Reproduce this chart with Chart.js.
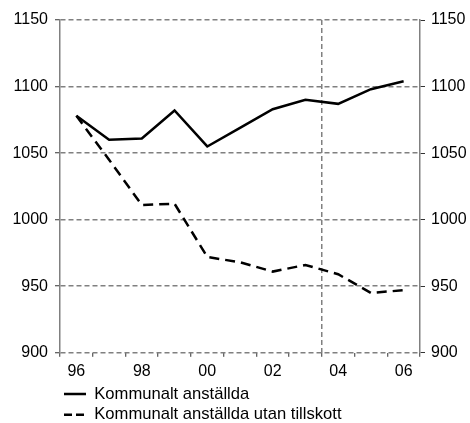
<!DOCTYPE html>
<html>
<head>
<meta charset="utf-8">
<script src="https://cdn.jsdelivr.net/npm/chart.js@4/dist/chart.umd.min.js"></script>
<style>
  html, body { margin: 0; padding: 0; background: #fff; }
  #wrap { width: 470px; height: 423px; position: relative; }
</style>
</head>
<body>
<div id="wrap"><canvas id="c" width="470" height="423"></canvas></div>
<script>
const years = ['96','97','98','99','00','01','02','03','04','05','06'];
const anstallda = [1078, 1060, 1061, 1082, 1055, 1069, 1083, 1090, 1087, 1098, 1104];
const utanTillskott = [1078, 1045, 1011, 1012, 972, 968, 961, 966, 959, 945, 947];
const seriesNames = ['Kommunalt anställda', 'Kommunalt anställda utan tillskott'];
const yMin = 900, yMax = 1150, yStep = 50;
const markerIndex = 8; // vertical dashed line at the boundary before '04'

const FONT = { family: "'Liberation Sans', Arial, sans-serif", size: 16 };
const LEGEND_FONT = { family: "'Liberation Sans', Arial, sans-serif", size: 16.6 };
const GRID_GRAY = '#808080';

Chart.defaults.font = FONT;
Chart.defaults.color = '#000';

new Chart(document.getElementById('c'), {
  type: 'line',
  data: {
    labels: years,
    datasets: [
      {
        label: seriesNames[0],
        data: anstallda,
        borderColor: '#000',
        borderWidth: 2.5,
        pointRadius: 0,
        tension: 0,
        fill: false,
        yAxisID: 'y'
      },
      {
        label: seriesNames[1],
        data: utanTillskott,
        borderColor: '#000',
        borderWidth: 2.5,
        borderDash: [10, 6],
        pointRadius: 0,
        tension: 0,
        fill: false,
        yAxisID: 'y'
      }
    ]
  },
  options: {
    responsive: false,
    animation: false,
    devicePixelRatio: 1,
    layout: { padding: { top: 20, left: 0, right: 0, bottom: -10 } },
    plugins: {
      tooltip: { enabled: false },
      legend: {
        display: true,
        position: 'bottom',
        align: 'start',
        fullSize: false,
        labels: {
          font: LEGEND_FONT,
          color: '#000',
          boxWidth: 22,
          boxHeight: 0,
          padding: 4,
          generateLabels: (chart) => chart.data.datasets.map((ds, i) => ({
            text: ds.label,
            fillStyle: 'rgba(0,0,0,0)',
            strokeStyle: '#000',
            lineWidth: 2.5,
            lineDash: i === 1 ? [8, 4] : [],
            lineCap: 'butt',
            hidden: false,
            datasetIndex: i
          }))
        }
      }
    },
    scales: {
      x: {
        type: 'category',
        offset: true,
        grid: {
          offset: true,
          drawOnChartArea: true,
          color: (ctx) => ctx.index === markerIndex ? GRID_GRAY : 'rgba(0,0,0,0)',
          lineWidth: 1.5,
          drawTicks: true,
          tickLength: 4,
          tickColor: '#333',
          tickWidth: 1,
          tickBorderDash: []
        },
        border: { display: false, dash: [5, 3] },
        ticks: {
          autoSkip: false,
          maxRotation: 0,
          padding: 5,
          font: FONT,
          color: '#000',
          callback: function(value, index) { return index % 2 === 0 ? this.getLabelForValue(value) : ''; }
        },
        afterFit: (scale) => { scale.height = 29; }
      },
      y: {
        position: 'left',
        min: yMin,
        max: yMax,
        grid: {
          color: GRID_GRAY,
          lineWidth: 1.5,
          drawTicks: true,
          tickLength: 5,
          tickColor: '#333',
          tickWidth: 1,
          tickBorderDash: []
        },
        border: { display: true, color: GRID_GRAY, width: 1.5, dash: [5, 3] },
        ticks: { stepSize: yStep, padding: 7, font: FONT, color: '#000', callback: (v) => String(v) },
        afterFit: (scale) => { scale.width = 60; }
      },
      y2: {
        position: 'right',
        min: yMin,
        max: yMax,
        grid: {
          drawOnChartArea: false,
          drawTicks: true,
          tickLength: 5,
          tickColor: '#333',
          tickWidth: 1,
          tickBorderDash: []
        },
        border: { display: true, color: GRID_GRAY, width: 1.5 },
        ticks: { stepSize: yStep, padding: 6, font: FONT, color: '#000', callback: (v) => String(v) },
        afterFit: (scale) => { scale.width = 50; }
      }
    }
  }
});
</script>
</body>
</html>
